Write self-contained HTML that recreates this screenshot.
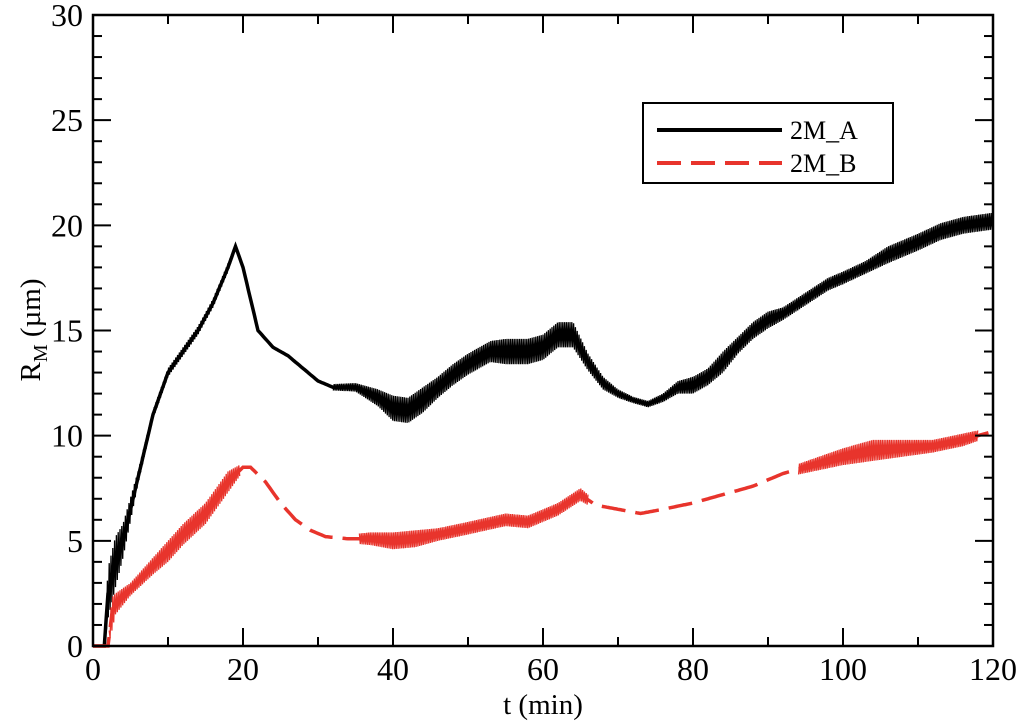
<!DOCTYPE html>
<html><head><meta charset="utf-8"><style>
html,body{margin:0;padding:0;background:#fff;}
svg{display:block;font-family:"Liberation Serif",serif;}
</style></head><body>
<svg id="chart" width="1024" height="723">
<g id="marks"></g>
<g id="axes"></g>
<g>
<rect x="643" y="103" width="250" height="80" fill="#fff" stroke="#000" stroke-width="2"/>
<line x1="657" y1="130" x2="782" y2="130" stroke="#000" stroke-width="4"/>
<text x="790" y="139" font-size="26">2M_A</text>
<line x1="657" y1="163" x2="782" y2="163" stroke="#e8342c" stroke-width="4" stroke-dasharray="24,10"/>
<text x="790" y="172" font-size="26">2M_B</text>
</g>
<text x="543" y="714" font-size="29" text-anchor="middle">t (min)</text>
<text transform="translate(40,330) rotate(-90)" font-size="29" text-anchor="middle">R<tspan font-size="20" dy="7">M</tspan><tspan dy="-7"> (µm)</tspan></text>
</svg>
<script>
const aT=[0,1.5,2,3,4,6,8,10,12,14,16,18,19,20,22,24,26,28,30,32,35,38,40,42,44,46,48,50,53,55,58,60,62,64,66,68,70,72,74,76,78,80,82,84,86,88,90,92,95,98,100,103,106,110,113,116,120];
const aV=[0,0,2.5,4,5,8,11,13,14,15,16.3,18,19,18,15,14.2,13.8,13.2,12.6,12.3,12.3,11.8,11.3,11.2,11.7,12.3,12.9,13.4,14,14,14,14.2,14.8,14.8,13.5,12.5,12,11.7,11.5,11.8,12.3,12.4,12.8,13.5,14.3,15,15.5,15.8,16.5,17.2,17.5,18,18.6,19.2,19.7,20,20.2];
const aAmp=[0,0,1.2,1.2,0.8,0.3,0.2,0.2,0.2,0.2,0.2,0.2,0.1,0.1,0.1,0.1,0.1,0.1,0.1,0.15,0.2,0.4,0.6,0.6,0.6,0.5,0.5,0.5,0.5,0.6,0.6,0.6,0.6,0.6,0.4,0.3,0.2,0.15,0.15,0.2,0.3,0.4,0.4,0.5,0.4,0.4,0.4,0.3,0.3,0.3,0.3,0.3,0.4,0.4,0.4,0.4,0.4];
const bT=[0,2,2.5,3,5,8,10,12,15,18,20,21,23,25,27,29,31,34,37,40,43,46,50,55,58,62,65,67,70,73,76,80,84,88,92,96,100,104,108,112,116,120];
const bV=[0,0,1.5,2,2.7,3.8,4.5,5.3,6.3,7.8,8.5,8.5,7.8,6.8,6,5.5,5.2,5.1,5.1,5,5.1,5.3,5.6,6,5.9,6.5,7.2,6.7,6.5,6.3,6.5,6.8,7.2,7.6,8.2,8.6,9,9.3,9.4,9.5,9.8,10.2];
const bAmp=[0,0,0.8,0.5,0.3,0.4,0.5,0.5,0.5,0.5,0.2,0.1,0.1,0.1,0.1,0.1,0.1,0.2,0.3,0.4,0.4,0.3,0.3,0.3,0.3,0.3,0.3,0.2,0.1,0.1,0.1,0.1,0.1,0.2,0.2,0.3,0.4,0.5,0.4,0.3,0.3,0.2];
const xTicks=[0,20,40,60,80,100,120];
const yTicks=[0,5,10,15,20,25,30];
const L=93,R=993,T=15,B=646;
const X=t=>L+(t-0)/120*(R-L);
const Y=v=>B-v/30*(B-T);
const NS="http://www.w3.org/2000/svg";
function mk(tag,attrs,parent){const e=document.createElementNS(NS,tag);for(const k in attrs)e.setAttribute(k,attrs[k]);parent.appendChild(e);return e;}
function interp(ts,vs,t){for(let i=1;i<ts.length;i++){if(t<=ts[i]){const f=(t-ts[i-1])/(ts[i]-ts[i-1]);return vs[i-1]+f*(vs[i]-vs[i-1]);}}return vs[vs.length-1];}
function center(ts,vs){let d="";for(let t=0;t<=120.001;t+=0.25){d+=(d?"L":"M")+X(t).toFixed(1)+","+Y(interp(ts,vs,t)).toFixed(1);}return d;}
function noise(ts,vs,amp,thr){let d="",s=1,on=false;for(let t=0;t<=120.001;t+=0.12){const a=interp(ts,amp,t);if(a<thr){on=false;continue;}const v=interp(ts,vs,t)+s*a;s=-s;d+=(on?"L":"M")+X(t).toFixed(1)+","+Y(v).toFixed(1);on=true;}return d;}
const marks=document.getElementById('marks');
const pa=mk('path',{d:center(aT,aV),fill:'none',stroke:'#000','stroke-width':3.5},marks);


const na=mk('path',{d:noise(aT,aV,aAmp,0.15),fill:'none',stroke:'#000','stroke-width':1.3},marks);


const pb=mk('path',{d:center(bT,bV),fill:'none',stroke:'#e8342c','stroke-width':3.5,'stroke-dasharray':'24,10'},marks);


const nb=mk('path',{d:noise(bT,bV,bAmp,0.25),fill:'none',stroke:'#e8342c','stroke-width':1.3},marks);


const ax=document.getElementById('axes');
const fr=mk('rect',{x:L,y:T,width:R-L,height:B-T,fill:'none',stroke:'#000','stroke-width':2.5},ax);


for(let t=0;t<=120;t+=10){const maj=t%20===0;const l=maj?18:9;
mk('line',{x1:X(t),x2:X(t),y1:B,y2:B-l,stroke:'#000','stroke-width':2},ax);
mk('line',{x1:X(t),x2:X(t),y1:T,y2:T+l,stroke:'#000','stroke-width':2},ax);}
for(let v=0;v<=30;v+=1){const maj=v%5===0;const l=maj?18:9;
mk('line',{x1:L,x2:L+l,y1:Y(v),y2:Y(v),stroke:'#000','stroke-width':2},ax);
mk('line',{x1:R,x2:R-l,y1:Y(v),y2:Y(v),stroke:'#000','stroke-width':2},ax);}
xTicks.forEach(t=>{const e=mk('text',{x:X(t),y:B+34,'font-size':32,'text-anchor':'middle'},ax);e.textContent=t;

});
yTicks.forEach(v=>{const e=mk('text',{x:L-10,y:Y(v)+11,'font-size':32,'text-anchor':'end'},ax);e.textContent=v;

});
</script>
</body></html>
